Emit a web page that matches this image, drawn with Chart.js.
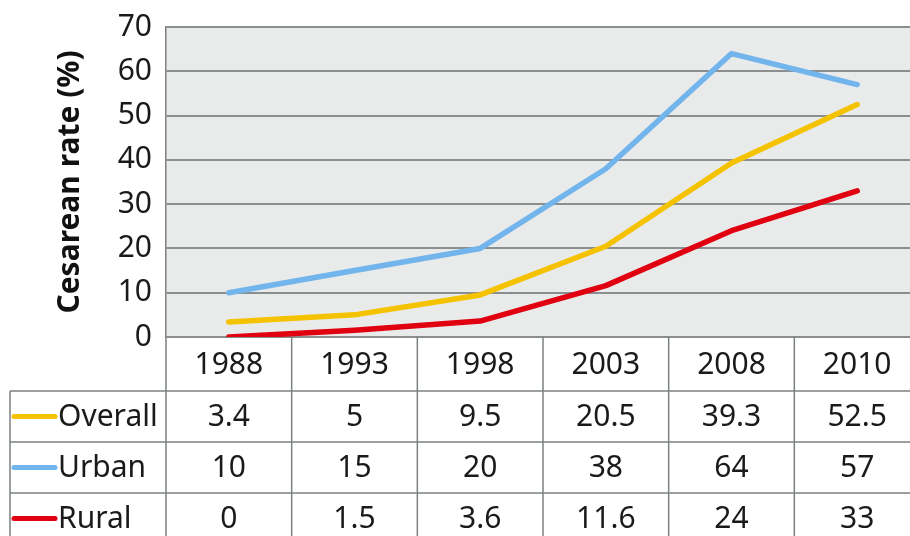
<!DOCTYPE html>
<html>
<head>
<meta charset="utf-8">
<script src="https://cdn.jsdelivr.net/npm/chart.js@4/dist/chart.umd.min.js"></script>
<style>
  html, body { margin: 0; padding: 0; background: #fff; overflow: hidden; }
  #wrap { position: absolute; left: 0; top: 0; width: 930px; height: 536px; }
</style>
</head>
<body>
<div id="wrap"><canvas id="chart" width="930" height="536"></canvas></div>
<script>
// --- Data ---
const years = ['1988', '1993', '1998', '2003', '2008', '2010'];
const overall = [3.4, 5, 9.5, 20.5, 39.3, 52.5];
const urban = [10, 15, 20, 38, 64, 57];
const rural = [0, 1.5, 3.6, 11.6, 24, 33];
const seriesNames = ['Overall', 'Urban', 'Rural'];
const yTicks = [0, 10, 20, 30, 40, 50, 60, 70];

const COLORS = ['#f5c200', '#72b4ec', '#e0000f'];
const FONT = '"Noto Sans", "Open Sans", sans-serif';
const GRID = '#8a8e8e';
const TABLE_LINE = '#7d8080';

// data table under the plot (header row + one row per series)
const tablePlugin = {
  id: 'dataTable',
  beforeDraw(chart) {
    const a = chart.chartArea;
    const ctx = chart.ctx;
    ctx.save();
    ctx.fillStyle = '#e9ebeb';
    ctx.fillRect(a.left, a.top, a.right - a.left, a.bottom - a.top);
    ctx.restore();
  },
  afterDraw(chart) {
    const a = chart.chartArea;
    const ctx = chart.ctx;
    const x = chart.scales.x;
    const colW = (a.right - a.left) / years.length;
    const rows = [a.bottom, a.bottom + 54, a.bottom + 105, a.bottom + 156, a.bottom + 207];
    const legendLeft = 10;

    ctx.save();
    ctx.strokeStyle = TABLE_LINE;
    ctx.lineWidth = 1.5;
    // vertical dividers
    for (let i = 0; i <= years.length; i++) {
      const xx = a.left + i * colW;
      ctx.beginPath();
      ctx.moveTo(xx, a.bottom);
      ctx.lineTo(xx, rows[4]);
      ctx.stroke();
    }
    ctx.beginPath();
    ctx.moveTo(legendLeft, rows[1]);
    ctx.lineTo(legendLeft, rows[4]);
    ctx.stroke();
    // horizontal lines
    for (let r = 1; r < rows.length; r++) {
      ctx.beginPath();
      ctx.moveTo(legendLeft, rows[r]);
      ctx.lineTo(a.right, rows[r]);
      ctx.stroke();
    }

    ctx.fillStyle = '#1a1a1a';
    ctx.font = '30px ' + FONT;
    ctx.textAlign = 'center';
    ctx.textBaseline = 'middle';
    years.forEach((y, i) => {
      ctx.fillText(y, x.getPixelForValue(i), (rows[0] + rows[1]) / 2 + 1);
    });

    chart.data.datasets.forEach((ds, r) => {
      const cy = (rows[r + 1] + rows[r + 2]) / 2;
      ds.data.forEach((v, i) => {
        ctx.textAlign = 'center';
        ctx.fillText(String(v), x.getPixelForValue(i), cy + 1);
      });
      // legend key
      ctx.strokeStyle = ds.borderColor;
      ctx.lineWidth = 5;
      ctx.lineCap = 'round';
      ctx.beginPath();
      ctx.moveTo(14, cy);
      ctx.lineTo(55, cy);
      ctx.stroke();
      ctx.textAlign = 'left';
      ctx.fillText(ds.label, 58, cy + 1);
    });
    ctx.restore();
  }
};

const mkSet = (label, data, color) => ({
  label, data,
  borderColor: color,
  backgroundColor: color,
  borderWidth: 5.5,
  pointRadius: 0,
  tension: 0,
  borderCapStyle: 'round',
  borderJoinStyle: 'round'
});

new Chart(document.getElementById('chart'), {
  type: 'line',
  data: {
    labels: years,
    datasets: [
      mkSet(seriesNames[0], overall, COLORS[0]),
      mkSet(seriesNames[1], urban, COLORS[1]),
      mkSet(seriesNames[2], rural, COLORS[2])
    ]
  },
  options: {
    responsive: false,
    devicePixelRatio: 1,
    animation: false,
    layout: { padding: { left: 0, top: 27, right: 10, bottom: 199 } },
    plugins: { legend: { display: false }, tooltip: { enabled: false } },
    scales: {
      x: {
        display: false,
        offset: true
      },
      y: {
        min: 0,
        max: 70,
        afterBuildTicks: s => { s.ticks = yTicks.map(v => ({ value: v })); },
        afterFit: s => { s.width = 166; s.paddingTop = 0; s.paddingBottom = 0; },
        border: { display: true, color: TABLE_LINE, width: 1.5 },
        grid: { color: GRID, lineWidth: 2, drawTicks: false },
        ticks: { color: '#1a1a1a', font: { family: FONT, size: 30 }, padding: 14 },
        title: {
          display: true,
          text: 'Cesarean rate (%)',
          color: '#111',
          font: { family: FONT, size: 30, weight: 'bold' },
          padding: { top: 52, bottom: 0 }
        }
      }
    }
  },
  plugins: [tablePlugin]
});
</script>
</body>
</html>
